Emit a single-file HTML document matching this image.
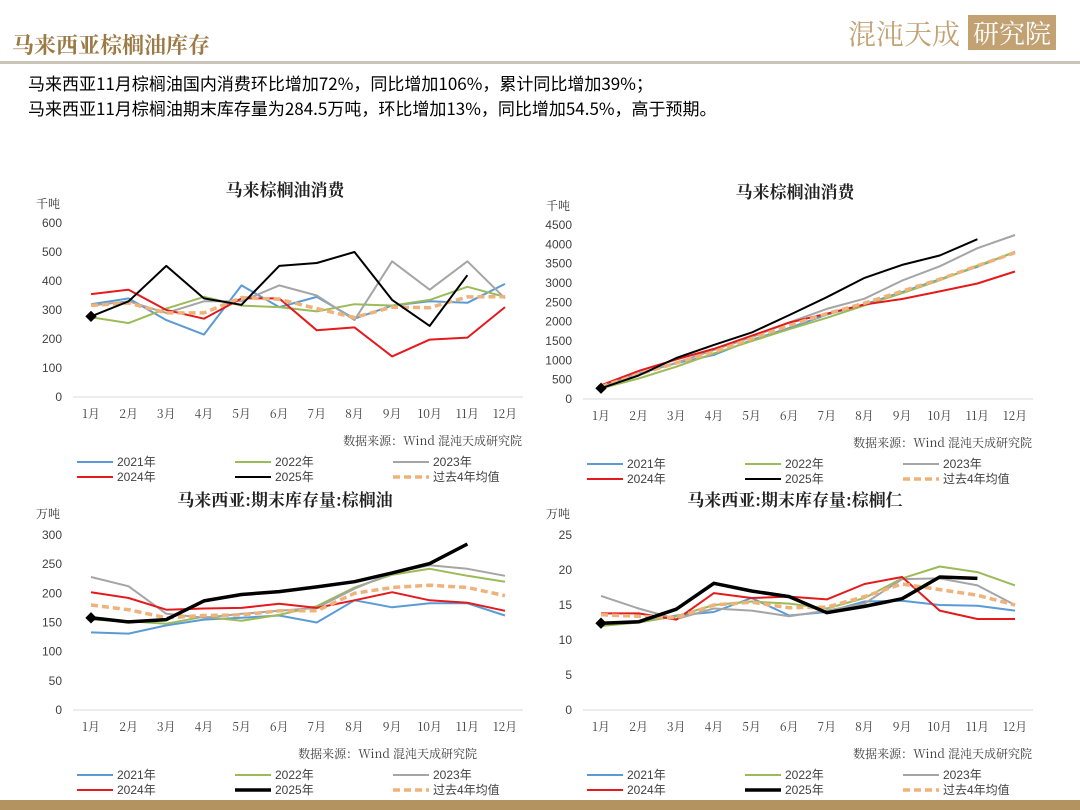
<!DOCTYPE html>
<html><head><meta charset="utf-8">
<style>
body{margin:0;background:#fff;}
svg{display:block;font-family:"Liberation Sans","Noto Sans CJK SC",sans-serif;}
</style></head>
<body>
<svg id="s" width="1080" height="810" viewBox="0 0 1080 810" xmlns="http://www.w3.org/2000/svg">
<text x="12" y="53" font-size="22" fill="#9c7a45" font-family="Noto Serif CJK SC,serif" font-weight="bold">马来西亚棕榈油库存</text>
<rect x="0" y="61" width="1080" height="3" fill="#c9c3b8"/>
<g>
<text x="848" y="44" font-size="28" fill="#c2a273" font-family="Noto Serif CJK SC,serif">混沌天成</text>
<rect x="968" y="15" width="88" height="35" fill="#c2a273"/>
<text x="973" y="43" font-size="26" fill="#fff" font-family="Noto Serif CJK SC,serif">研究院</text>
</g>
<text x="28" y="90" font-size="17" fill="#000" font-family="Noto Sans CJK SC,sans-serif">马来西亚11月棕榈油国内消费环比增加72%，同比增加106%，累计同比增加39%；</text>
<text x="28" y="115" font-size="17" fill="#000" font-family="Noto Sans CJK SC,sans-serif">马来西亚11月棕榈油期末库存量为284.5万吨，环比增加13%，同比增加54.5%，高于预期。</text>
<rect x="0" y="800" width="1080" height="10" fill="#b39461"/>
</svg>
<script>
const months=["1月","2月","3月","4月","5月","6月","7月","8月","9月","10月","11月","12月"];
const seriesNames=["2021年","2022年","2023年","2024年","2025年","过去4年均值"];
// chart 1: monthly consumption (千吨)
const c1_2021=[320,340,265,215,385,310,345,270,315,330,325,390];
const c1_2022=[275,255,305,345,315,310,295,320,315,335,380,345];
const c1_2023=[315,330,290,330,330,385,350,265,468,370,468,340];
const c1_2024=[355,370,300,270,340,340,230,240,140,198,205,310];
const c1_2025=[278,330,452,340,318,452,462,500,335,245,420];
const c1_avg=[316,324,290,290,343,337,305,274,310,308,345,346];
const c1_ticks=[0,100,200,300,400,500,600];
// chart 2: cumulative consumption (千吨)
const c2_2021=[320,660,925,1140,1525,1835,2180,2450,2765,3095,3420,3810];
const c2_2022=[275,530,835,1180,1495,1805,2100,2420,2735,3070,3450,3795];
const c2_2023=[315,645,935,1265,1595,1980,2330,2595,3063,3433,3901,4241];
const c2_2024=[355,725,1025,1295,1635,1975,2205,2445,2585,2783,2988,3298];
const c2_2025=[278,608,1060,1400,1718,2170,2632,3132,3467,3712,4132];
const c2_avg=[316,640,930,1220,1563,1900,2205,2478,2788,3096,3441,3787];
const c2_ticks=[0,500,1000,1500,2000,2500,3000,3500,4000,4500];
// chart 3: palm oil stocks (万吨)
const c3_2021=[133,131,145,155,158,162,150,188,176,183,183,162];
const c3_2022=[155,152,148,160,153,163,178,210,232,242,230,220];
const c3_2023=[228,212,165,158,165,170,175,208,235,248,242,230];
const c3_2024=[202,192,172,174,175,182,175,188,202,188,184,170];
const c3_2025=[158,151,155,187,198,203,211,220,235,251,284.5];
const c3_avg=[180,172,158,162,163,170,170,200,210,214,210,196];
const c3_ticks=[0,50,100,150,200,250,300];
// chart 4: palm kernel stocks (万吨)
const c4_2021=[12.2,12.5,13.5,14,16,13.5,14,15.5,15.6,15,14.9,14.2];
const c4_2022=[12,12.5,13.4,15,15.5,15.2,14.5,16,18.8,20.5,19.7,17.8];
const c4_2023=[16.3,14.5,13,14.5,14.2,13.4,14.2,15.2,18.7,18.8,17.8,15];
const c4_2024=[13.8,13.8,12.9,16.7,16,16.2,15.8,18,19,14.2,13,13];
const c4_2025=[12.4,12.6,14.4,18.1,17,16.2,13.9,14.8,15.9,19,18.8];
const c4_avg=[13.6,13.4,13.2,15,15.4,14.6,14.7,16.2,18,17.2,16.4,15];
const c4_ticks=[0,5,10,15,20,25];

const NS="http://www.w3.org/2000/svg";
const svg=document.getElementById('s');
function mk(tag,attrs,parent,txt){const e=document.createElementNS(NS,tag);for(const k in attrs)e.setAttribute(k,attrs[k]);if(txt!==undefined)e.textContent=txt;parent.appendChild(e);return e;}
const colors=["#5b9bd5","#9bbb59","#a5a5a5","#e41a1c","#000000","#eeb27a"];
function chart(id,o,title,unit,data,ticks,tmax){
  const g=mk('g',{},svg);
  
  
  const x0=o.x0,x1=o.x1,yb=o.yb,yt=o.yt;
  const X=i=>x0+(x1-x0)*i/11;
  const Y=v=>yb-(yb-yt)*v/tmax;
  const t=mk('text',{x:o.tx,y:o.ty,'font-size':17,'font-weight':'bold','text-anchor':'middle','font-family':'Noto Serif CJK SC,serif',fill:'#222'},g,title);
  
  
  const u=mk('text',{x:o.ux,y:o.ty+12,'font-size':12,fill:'#333','font-family':'Noto Serif CJK SC,serif'},g,unit);
  
  
  ticks.forEach(v=>{const l=mk('text',{x:o.lx,y:Y(v)+4,'font-size':12,'text-anchor':'end',fill:'#404040'},g,String(v));
    
    });
  const ax=mk('line',{x1:o.ax0,x2:o.ax1,y1:yb,y2:yb,stroke:'#d9d9d9','stroke-width':1},g);
  
  
  months.forEach((m,i)=>{const l=mk('text',{x:X(i),y:yb+21,'font-size':12,'text-anchor':'middle',fill:'#404040','font-family':'Noto Serif CJK SC,serif'},g,m);
    
    });
  const order=[0,1,2,3,5,4];
  order.forEach(si=>{const d=data[si];
    const pts=d.map((v,i)=>X(i).toFixed(1)+','+Y(v).toFixed(1)).join(' ');
    const a={points:pts,fill:'none',stroke:colors[si],'stroke-width':si==4?o.bw:2,'stroke-linejoin':'round'};
    if(si==5){a['stroke-dasharray']='7,4';a['stroke-width']=3.5;}
    const p=mk('polyline',a,g);
    
    
    if(si==4){const dm=mk('rect',{x:X(0)-4,y:Y(d[0])-4,width:8,height:8,fill:'#000',transform:`rotate(45 ${X(0)} ${Y(d[0])})`},g);
      
      }
  });
  const src=mk('text',{x:o.sx,y:yb+48,'font-size':12,'text-anchor':'end',fill:'#404040','font-family':'Noto Serif CJK SC,serif'},g,'数据来源：Wind  混沌天成研究院');
  
  
  const cols=[o.ax0+4,o.ax0+162,o.ax0+320];
  seriesNames.forEach((n,si)=>{const cx=cols[si%3],cy=yb+65+(si>2?15:0);
    const lg=mk('g',{},g);
    
    
    const la={x1:cx,x2:cx+36,y1:cy,y2:cy,stroke:colors[si],'stroke-width':si==4?o.bw:2};
    if(si==5){la['stroke-dasharray']='7,4';la['stroke-width']=3.5;}
    mk('line',la,lg);
    mk('text',{x:cx+40,y:cy+4,'font-size':12,fill:'#404040'},lg,n);
  });
}
chart('chart-consumption',{x0:91,x1:505,yb:397,yt:223,ax0:73,ax1:523,lx:62,ux:36,tx:285,ty:196,sx:522,bw:2},'马来棕榈油消费','千吨',[c1_2021,c1_2022,c1_2023,c1_2024,c1_2025,c1_avg],c1_ticks,600);
chart('chart-cumulative-consumption',{x0:601,x1:1015,yb:399,yt:225,ax0:583,ax1:1033,lx:572,ux:546,tx:795,ty:198,sx:1032,bw:2},'马来棕榈油消费','千吨',[c2_2021,c2_2022,c2_2023,c2_2024,c2_2025,c2_avg],c2_ticks,4500);
chart('chart-palm-oil-stocks',{x0:91,x1:505,yb:710,yt:535,ax0:73,ax1:523,lx:62,ux:36,tx:285,ty:506,sx:477,bw:3.5},'马来西亚:期末库存量:棕榈油','万吨',[c3_2021,c3_2022,c3_2023,c3_2024,c3_2025,c3_avg],c3_ticks,300);
chart('chart-palm-kernel-stocks',{x0:601,x1:1015,yb:710,yt:535,ax0:583,ax1:1033,lx:572,ux:546,tx:795,ty:506,sx:1032,bw:3.5},'马来西亚:期末库存量:棕榈仁','万吨',[c4_2021,c4_2022,c4_2023,c4_2024,c4_2025,c4_avg],c4_ticks,25);
</script>
</body></html>
